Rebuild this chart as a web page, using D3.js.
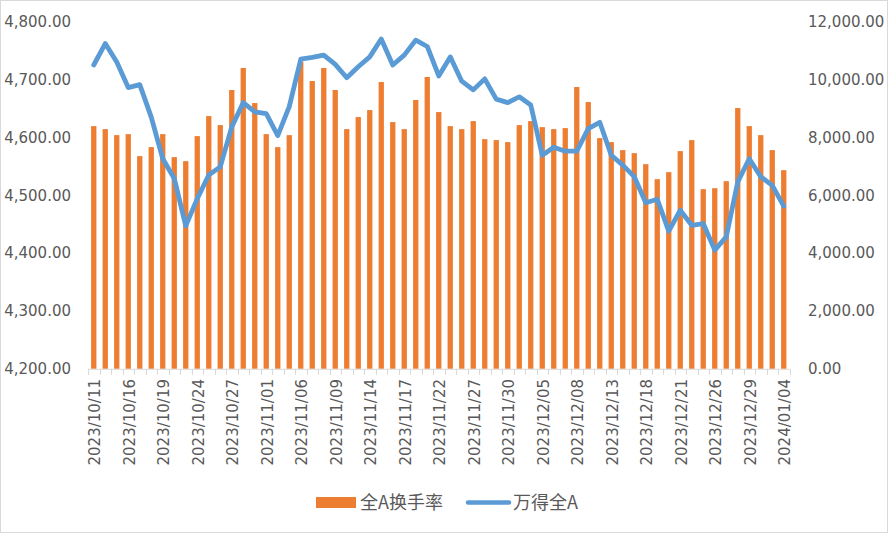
<!DOCTYPE html>
<html><head><meta charset="utf-8">
<script src="https://cdn.jsdelivr.net/npm/d3@7"></script>
<style>body{margin:0;background:#fff}svg{display:block}</style>
</head><body>
<script>
const dates = ["2023/10/11","2023/10/12","2023/10/13","2023/10/16","2023/10/17","2023/10/18","2023/10/19","2023/10/20","2023/10/23","2023/10/24","2023/10/25","2023/10/26","2023/10/27","2023/10/30","2023/10/31","2023/11/01","2023/11/02","2023/11/03","2023/11/06","2023/11/07","2023/11/08","2023/11/09","2023/11/10","2023/11/13","2023/11/14","2023/11/15","2023/11/16","2023/11/17","2023/11/20","2023/11/21","2023/11/22","2023/11/23","2023/11/24","2023/11/27","2023/11/28","2023/11/29","2023/11/30","2023/12/01","2023/12/04","2023/12/05","2023/12/06","2023/12/07","2023/12/08","2023/12/11","2023/12/12","2023/12/13","2023/12/14","2023/12/15","2023/12/18","2023/12/19","2023/12/20","2023/12/21","2023/12/22","2023/12/25","2023/12/26","2023/12/27","2023/12/28","2023/12/29","2024/01/02","2024/01/03","2024/01/04"];
const turnover = [8388,8284,8076,8111,7350,7662,8111,7316,7177,8042,8734,8423,9635,10397,9185,8111,7662,8076,10616,9946,10397,9635,8284,8700,8942,9912,8527,8284,9289,10085,8873,8388,8284,8561,7938,7904,7835,8423,8561,8353,8284,8319,9739,9220,7973,7835,7558,7454,7073,6554,6796,7523,7904,6208,6242,6485,9012,8388,8076,7558,6866];
const windA = [4725,4762,4730,4686,4691,4635,4563,4529,4447,4494,4535,4549,4618,4660,4644,4641,4603,4653,4735,4738,4742,4726,4703,4722,4739,4770,4725,4742,4768,4757,4706,4739,4697,4682,4701,4666,4660,4670,4656,4569,4583,4576,4576,4615,4626,4569,4552,4532,4487,4493,4438,4474,4448,4451,4405,4428,4523,4563,4532,4517,4481];
const leftTicks = [4200,4300,4400,4500,4600,4700,4800];
const rightTicks = [0,2000,4000,6000,8000,10000,12000];
const seriesNames = ["全A换手率","万得全A"];

const W=888,H=533;
const svg=d3.select("body").append("svg").attr("width",W).attr("height",H);
svg.append("rect").attr("x",0.5).attr("y",0.5).attr("width",W-1).attr("height",H-1).attr("fill","#fff").attr("stroke","#d9d9d9");

const x0=88,x1=789.5,yT=21.6,yB=368.8;
const x=d3.scaleBand().domain(dates).range([x0,x1]);
const yL=d3.scaleLinear().domain([4200,4800]).range([yB,yT]);
const yR=d3.scaleLinear().domain([0,12000]).range([yB,yT]);
const fmt=d3.format(",.2f");
const font="'DejaVu Sans', sans-serif";
const col="#595959";

// bars
const bw=x.bandwidth()*0.46;
svg.append("g").selectAll("rect").data(dates).join("rect")
 .attr("x",(d,i)=>x(d)+x.bandwidth()/2-bw/2)
 .attr("y",(d,i)=>yR(turnover[i]))
 .attr("width",bw)
 .attr("height",(d,i)=>yR(0)-yR(turnover[i]))
 .attr("fill","#ED7D31");

// x axis
const ax=svg.append("g");
ax.append("line").attr("x1",x0).attr("x2",x1).attr("y1",yB+0.5).attr("y2",yB+0.5).attr("stroke","#d9d9d9").attr("stroke-width",1);
const bounds=dates.map(d=>x(d)).concat([x1]);
ax.selectAll("line.t").data(bounds).join("line").attr("class","t")
 .attr("x1",d=>Math.round(d)+0.5).attr("x2",d=>Math.round(d)+0.5).attr("y1",yB).attr("y2",yB+6).attr("stroke","#d9d9d9");
ax.selectAll("text").data(dates.filter((d,i)=>i%3===0)).join("text")
 .attr("transform",d=>`translate(${x(d)+x.bandwidth()/2+1},379) rotate(-90)`)
 .attr("text-anchor","end").attr("dy","0.36em")
 .attr("font-family",font).attr("font-size",15).attr("fill",col).text(d=>d);

// left axis
svg.append("g").selectAll("text").data(leftTicks).join("text")
 .attr("x",71).attr("y",d=>yL(d)).attr("dy","0.36em").attr("text-anchor","end")
 .attr("font-family",font).attr("font-size",15).attr("fill",col).text(d=>fmt(d));
// right axis
svg.append("g").selectAll("text").data(rightTicks).join("text")
 .attr("x",808).attr("y",d=>yR(d)).attr("dy","0.36em").attr("text-anchor","start")
 .attr("font-family",font).attr("font-size",15).attr("fill",col).text(d=>fmt(d));

// line
const line=d3.line().x((d,i)=>x(dates[i])+x.bandwidth()/2).y(d=>yL(d));
svg.append("path").datum(windA).attr("d",line).attr("fill","none")
 .attr("stroke","#5B9BD5").attr("stroke-width",4.8).attr("stroke-linejoin","round").attr("stroke-linecap","round");

// legend
const lg=svg.append("g");
lg.append("rect").attr("x",316).attr("y",497).attr("width",40).attr("height",11).attr("fill","#ED7D31");
lg.append("text").attr("x",360).attr("y",502.5).attr("dy","0.36em").attr("font-family","'Noto Sans CJK SC', sans-serif").attr("font-size",18).attr("fill",col).text(seriesNames[0]);
lg.append("line").attr("x1",468).attr("x2",509).attr("y1",502.5).attr("y2",502.5).attr("stroke","#5B9BD5").attr("stroke-width",4.5).attr("stroke-linecap","round");
lg.append("text").attr("x",513).attr("y",502.5).attr("dy","0.36em").attr("font-family","'Noto Sans CJK SC', sans-serif").attr("font-size",18).attr("fill",col).text(seriesNames[1]);
</script>
</body></html>
